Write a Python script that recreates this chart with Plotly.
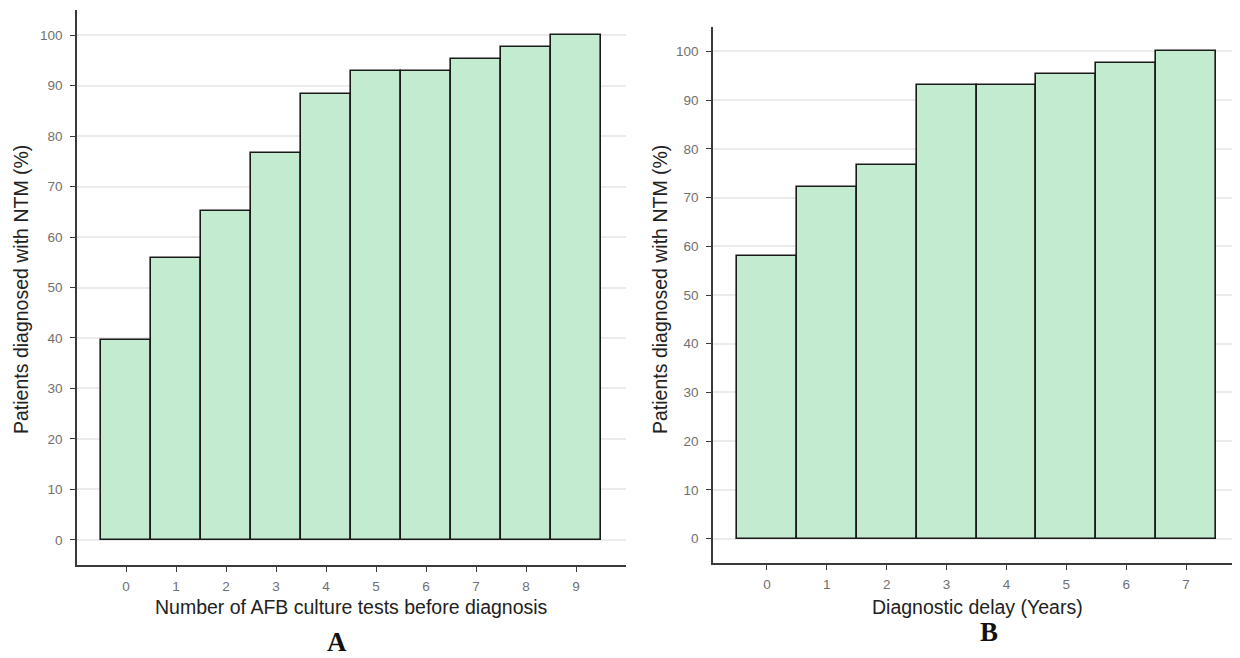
import plotly.graph_objects as go

# Data
tests_x = [0, 1, 2, 3, 4, 5, 6, 7, 8, 9]
tests_pct = [39.5, 55.8, 65.1, 76.7, 88.4, 93.0, 93.0, 95.3, 97.7, 100.0]
delay_x = [0, 1, 2, 3, 4, 5, 6, 7]
delay_pct = [58.1, 72.1, 76.7, 93.0, 93.0, 95.3, 97.7, 100.0]
y_ticks = [0, 10, 20, 30, 40, 50, 60, 70, 80, 90, 100]

W, H = 1240, 658
OFF = 8  # default page body margin


def px(x):
    return (x - OFF) / W


def py(y):
    return (H - (y - OFF)) / H


fill = "rgb(195,235,207)"
edge = "#1a1a1a"

fig = go.Figure()
fig.add_trace(go.Bar(x=tests_x, y=tests_pct, width=1.0, marker=dict(color=fill, line=dict(color=edge, width=1.6)),
                     xaxis="x", yaxis="y", showlegend=False))
fig.add_trace(go.Bar(x=delay_x, y=delay_pct, width=1.0, marker=dict(color=fill, line=dict(color=edge, width=1.6)),
                     xaxis="x2", yaxis="y2", showlegend=False))

tickfont = dict(family="Liberation Sans, Arial, sans-serif", size=13.5, color="#707070")
common_x = dict(showline=True, linecolor="#3a3a3a", linewidth=1.5, ticks="outside", ticklen=5, tickwidth=1.3,
                tickcolor="#3a3a3a", tickfont=tickfont, showgrid=False, zeroline=False, fixedrange=True,
                ticklabelstandoff=3)
common_y = dict(showline=True, linecolor="#3a3a3a", linewidth=1.5, ticks="outside", ticklen=5, tickwidth=1.3,
                tickcolor="#3a3a3a", tickfont=tickfont, showgrid=True, gridcolor="#ebebeb", gridwidth=1.5,
                zeroline=False, tickvals=y_ticks, range=[-5, 105], fixedrange=True, ticklabelstandoff=5)

fig.update_layout(
    width=W, height=H, margin=dict(l=0, r=0, t=0, b=0),
    paper_bgcolor="white", plot_bgcolor="white", bargap=0,
    xaxis=dict(domain=[px(77), px(626)], range=[-0.98, 10.0], tickvals=tests_x, anchor="y", **common_x),
    yaxis=dict(domain=[py(565), py(10)], anchor="x", **common_y),
    xaxis2=dict(domain=[px(713), px(1240)], range=[-0.9, 7.9], tickvals=delay_x, anchor="y2", **common_x),
    yaxis2=dict(domain=[py(563), py(27)], anchor="x2", **common_y),
)

titlefont = dict(family="Liberation Sans, Arial, sans-serif", size=19.5, color="#222")
labfont = dict(family="Liberation Serif, Times New Roman, serif", size=27, color="#111")
ann = [
    dict(text="Number of AFB culture tests before diagnosis", x=px(351), y=py(607), font=titlefont),
    dict(text="Patients diagnosed with NTM (%)", x=px(21), y=py(290), font=titlefont, textangle=-90),
    dict(text="<b>A</b>", x=px(337), y=py(642), font=labfont),
    dict(text="Diagnostic delay (Years)", x=px(977), y=py(607), font=titlefont),
    dict(text="Patients diagnosed with NTM (%)", x=px(660), y=py(290), font=titlefont, textangle=-90),
    dict(text="<b>B</b>", x=px(989), y=py(632), font=labfont),
]
for a in ann:
    fig.add_annotation(xref="paper", yref="paper", showarrow=False, xanchor="center", yanchor="middle", **a)

fig.write_html("out.html")
